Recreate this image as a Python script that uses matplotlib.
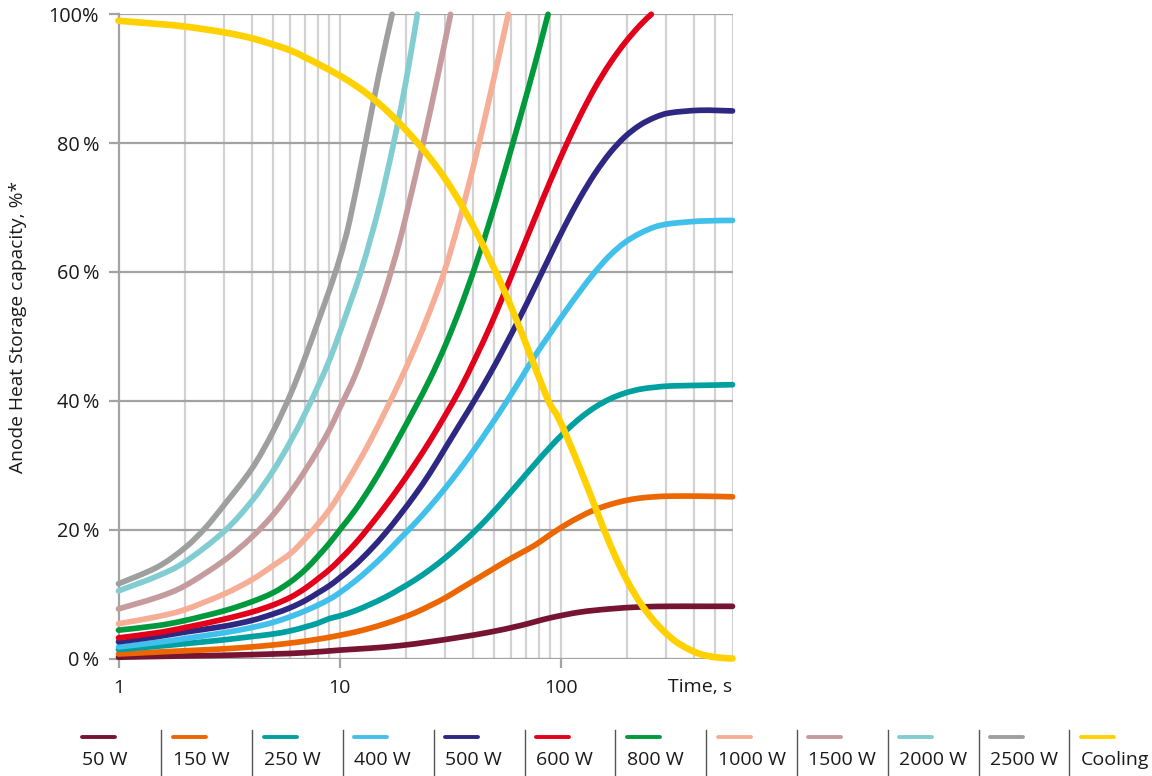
import numpy as np
import matplotlib
matplotlib.use("Agg")
import matplotlib.pyplot as plt
from matplotlib.lines import Line2D
from matplotlib.path import Path
from matplotlib.patches import PathPatch

plt.rcParams['font.family'] = ['Open Sans', 'DejaVu Sans']

# ---- data: time (s) and anode heat storage capacity (%) ----
t_50 = [1, 2, 3, 5, 7, 10, 13.74, 18.78, 25.67, 35.09, 47.97, 65.57, 89.6, 122.5, 167.5, 228.9, 313, 427.8, 600]
p_50 = [0.2, 0.4, 0.5, 0.7, 0.9, 1.3, 1.6, 2.0, 2.6, 3.3, 4.1, 5.1, 6.3, 7.2, 7.7, 8.0, 8.1, 8.1, 8.1]

t_150 = [1, 1.5, 2, 3, 4, 5, 6, 7, 8, 9, 10, 11.75, 13.74, 16.07, 18.78, 21.96, 25.67, 30.02, 35.09, 41.03,
         47.97, 56.09, 65.57, 76.67, 89.6, 104.8, 122.5, 143.2, 167.5, 195.8, 228.9, 267.7, 313, 427.8, 600]
p_150 = [0.7, 1.0, 1.2, 1.5, 1.8, 2.1, 2.4, 2.7, 3.0, 3.3, 3.6, 4.1, 4.7, 5.4, 6.2, 7.1, 8.2, 9.4, 10.8, 12.2,
         13.6, 15.0, 16.3, 17.6, 19.2, 20.7, 22.0, 23.1, 23.9, 24.5, 24.9, 25.1, 25.2, 25.2, 25.1]

t_250 = [1, 1.5, 2, 3, 4, 5, 6, 7, 8, 9, 10, 11.75, 13.74, 16.07, 18.78, 21.96, 25.67, 30.02, 35.09, 41.03,
         47.97, 56.09, 65.57, 76.67, 89.6, 104.8, 122.5, 143.2, 167.5, 195.8, 228.9, 267.7, 313, 427.8, 600]
p_250 = [1.4, 1.9, 2.3, 2.9, 3.4, 3.8, 4.3, 4.9, 5.5, 6.2, 6.6, 7.4, 8.4, 9.5, 10.8, 12.2, 13.8, 15.6, 17.6, 19.8,
         22.2, 24.8, 27.5, 30.2, 32.8, 35.2, 37.3, 39.0, 40.3, 41.2, 41.8, 42.1, 42.3, 42.4, 42.5]

t_400 = [1, 1.5, 2, 3, 4, 5, 6, 7, 8, 9, 10, 11.75, 13.74, 16.07, 18.78, 21.96, 25.67, 30.02, 35.09, 41.03,
         47.97, 56.09, 65.57, 76.67, 89.6, 104.8, 122.5, 143.2, 167.5, 195.8, 228.9, 267.7, 313, 427.8, 600]
p_400 = [1.8, 2.5, 3.1, 4.0, 4.8, 5.6, 6.5, 7.4, 8.3, 9.2, 10.2, 12.0, 14.0, 16.2, 18.6, 21.0, 23.6, 26.4, 29.4, 32.6,
         36.0, 39.5, 43.2, 47.0, 50.4, 53.8, 57.0, 60.0, 62.6, 64.6, 66.0, 67.0, 67.5, 67.9, 68.0]

t_500 = [1, 1.5, 2, 3, 4, 5, 6, 7, 8, 9, 10, 11.75, 13.74, 16.07, 18.78, 21.96, 25.67, 30.02, 35.09, 41.03,
         47.97, 56.09, 65.57, 76.67, 89.6, 104.8, 122.5, 143.2, 167.5, 195.8, 228.9, 267.7, 313, 427.8, 600]
p_500 = [2.6, 3.4, 4.1, 5.0, 5.9, 6.9, 7.9, 9.0, 10.2, 11.3, 12.5, 14.5, 16.8, 19.4, 22.3, 25.4, 28.8, 32.6, 36.4, 40.2,
         44.2, 48.5, 53.0, 57.7, 62.5, 67.2, 71.5, 75.3, 78.5, 81.0, 82.8, 84.0, 84.7, 85.1, 85.0]

t_600 = [1, 1.5, 2, 3, 4, 5, 6, 7, 8, 9, 10, 11.75, 13.74, 16.07, 18.78, 21.96, 25.67, 30.02, 35.09, 41.03,
         47.97, 56.09, 65.57, 76.67, 89.6, 104.8, 122.5, 143.2, 167.5, 195.8, 228.9, 257.5]
p_600 = [3.2, 4.0, 4.8, 6.1, 7.2, 8.3, 9.5, 10.9, 12.4, 13.8, 15.3, 17.8, 20.6, 23.6, 26.8, 30.2, 33.8, 37.7, 41.8, 46.5,
         51.5, 57.0, 62.7, 68.4, 74.0, 79.3, 84.2, 88.6, 92.4, 95.6, 98.3, 100]

t_800 = [1, 1.5, 2, 3, 4, 5, 6, 7, 8, 9, 10, 11.75, 13.74, 16.07, 18.78, 21.96, 25.67, 30.02, 35.09, 41.03,
         47.97, 56.09, 65.57, 76.67, 87.8]
p_800 = [4.4, 5.1, 5.9, 7.4, 8.8, 10.2, 11.9, 13.8, 15.9, 17.9, 19.9, 23.0, 26.5, 30.4, 34.6, 38.9, 43.4, 48.5, 54.3, 60.8,
         68.0, 75.8, 83.9, 92.3, 100]

t_1000 = [1, 1.5, 2, 3, 4, 5, 6, 7, 8, 9, 10, 11.75, 13.74, 16.07, 18.78, 21.96, 25.67, 30.02, 35.09, 41.03,
          47.97, 58.0]
p_1000 = [5.4, 6.5, 7.6, 10.0, 12.2, 14.4, 16.3, 18.6, 20.9, 23.1, 25.5, 29.5, 33.7, 38.3, 43.1, 48.3, 54.0, 60.4, 68.4, 77.4,
          87.4, 100]

t_1500 = [1, 1.5, 2, 3, 4, 5, 6, 7, 8, 9, 10, 11.75, 13.74, 16.07, 18.78, 21.96, 25.67, 30.02, 31.8]
p_1500 = [7.7, 9.5, 11.3, 15.2, 18.8, 22.3, 25.8, 29.2, 32.4, 35.5, 38.8, 43.9, 50.2, 57.0, 65.0, 74.6, 84.8, 95.8, 100]

t_2000 = [1, 1.5, 2, 3, 4, 5, 6, 7, 8, 9, 10, 12.5, 15, 17.5, 20, 22.5]
p_2000 = [10.5, 12.8, 15.0, 19.7, 24.4, 29.1, 33.7, 38.1, 42.3, 46.3, 50.5, 60.1, 69.7, 79.7, 89.7, 100]

t_2500 = [1, 1.5, 2, 2.46, 3, 4, 5, 6, 7, 8, 9, 10, 11.12, 13.1, 15.0, 17.3]
p_2500 = [11.6, 14.2, 17.2, 20.2, 23.8, 29.4, 35.2, 41.0, 46.8, 52.3, 57.2, 62.0, 68.0, 80.0, 90.3, 100]

t_cool = [1, 1.5, 2, 3, 4, 5, 6, 7, 8, 10, 11.75, 13.74, 16.07, 18.78, 21.96, 25.67, 30.02, 35.09, 41.03, 47.97,
          56.09, 65.57, 76.67, 88.7, 97.4, 108.1, 122.5, 138.8, 157.3, 178.3, 202.1, 228.9, 259.4, 293.9, 333.2,
          377.6, 427.8, 500, 600]
p_cool = [99.0, 98.5, 98.1, 97.2, 96.3, 95.3, 94.4, 93.3, 92.3, 90.5, 89.0, 87.3, 85.3, 83.0, 80.5, 77.7, 74.5, 70.8,
          66.6, 61.9, 56.8, 51.2, 45.2, 39.8, 37.5, 34.0, 29.5, 24.8, 20.0, 15.6, 11.8, 8.7, 6.2, 4.2, 2.6, 1.5, 0.7,
          0.2, 0.0]

series_labels = ["50 W", "150 W", "250 W", "400 W", "500 W", "600 W", "800 W",
                 "1000 W", "1500 W", "2000 W", "2500 W", "Cooling"]
series_colors = ["#771432", "#EC6602", "#009FA0", "#41C0EB", "#2E2883", "#E2001A", "#009A3D",
                 "#F7AE96", "#C59B9E", "#82CDD1", "#9E9F9F", "#FFD100"]
series_t = [t_50, t_150, t_250, t_400, t_500, t_600, t_800, t_1000, t_1500, t_2000, t_2500, t_cool]
series_p = [p_50, p_150, p_250, p_400, p_500, p_600, p_800, p_1000, p_1500, p_2000, p_2500, p_cool]

y_ticks = [0, 20, 40, 60, 80, 100]
y_tick_labels = ["0\u2009%", "20\u2009%", "40\u2009%", "60\u2009%", "80\u2009%", "100%"]
x_ticks = [1, 10, 100]
x_tick_labels = ["1", "10", "100"]
x_minor = [2, 3, 4, 5, 6, 7, 8, 9, 20, 30, 40, 50, 60, 70, 80, 90, 200, 300, 400, 500, 600]


def smooth_path(tt, pp):
    """Smoothed line through the points (Catmull-Rom as cubic Bezier segments,
    built in log-time space so it follows the logarithmic axis)."""
    lx = np.log10(np.asarray(tt, float))
    y = np.asarray(pp, float)
    n = len(lx)
    verts = [(tt[0], pp[0])]
    codes = [Path.MOVETO]
    for i in range(n - 1):
        x0, y0 = (lx[i - 1], y[i - 1]) if i > 0 else (lx[i], y[i])
        x1, y1 = lx[i], y[i]
        x2, y2 = lx[i + 1], y[i + 1]
        x3, y3 = (lx[i + 2], y[i + 2]) if i + 2 < n else (x2, y2)
        c1 = (x1 + (x2 - x0) / 6, y1 + (y2 - y0) / 6)
        c2 = (x2 - (x3 - x1) / 6, y2 - (y3 - y1) / 6)
        verts += [(10 ** c1[0], c1[1]), (10 ** c2[0], c2[1]), (10 ** x2, y2)]
        codes += [Path.CURVE4] * 3
    return Path(verts, codes)


# ---- figure ----
W, H = 1152, 776
fig = plt.figure(figsize=(W / 100, H / 100), dpi=100)
ax_l, ax_r, ax_t, ax_b = 118.5, 732.5, 14.3, 658.5
ax = fig.add_axes([ax_l / W, 1 - ax_b / H, (ax_r - ax_l) / W, (ax_b - ax_t) / H])

ax.set_xscale("log")
ax.set_xlim(1, 600)
ax.set_ylim(0, 100)

major_grey = "#A3A3A3"
minor_grey = "#D2D2D2"
text_col = "#1a1a1a"
for xv in x_minor + [10, 100]:
    ax.axvline(xv, color=minor_grey, lw=1.6, zorder=1)
for yv in y_ticks:
    ax.axhline(yv, color=major_grey, lw=1.6, zorder=1.5)

for s in ["top", "right", "bottom"]:
    ax.spines[s].set_visible(False)
ax.spines["left"].set_color(major_grey)
ax.spines["left"].set_linewidth(1.6)
ax.spines["left"].set_zorder(1.6)

ax.set_yticks(y_ticks)
ax.set_yticklabels(y_tick_labels)
ax.set_xticks(x_ticks)
ax.set_xticklabels(x_tick_labels)
ax.xaxis.set_minor_locator(matplotlib.ticker.NullLocator())
ax.tick_params(axis="y", length=7, width=1.6, color=major_grey, pad=7, labelsize=14.3, labelcolor=text_col)
ax.tick_params(axis="x", length=6.5, width=1.6, color=major_grey, pad=8, labelsize=14, labelcolor=text_col)

ax.text(1.0, -0.031, "Time, s", transform=ax.transAxes, ha="right", va="top", fontsize=14, color=text_col)
fig.text(18 / W, 1 - 327 / H, "Anode Heat Storage capacity, %*", rotation=90,
         ha="center", va="center", fontsize=13.8, color=text_col)

# ---- curves ----
for i, (tt, pp, col) in enumerate(zip(series_t, series_p, series_colors)):
    lw = 4.8 if i == len(series_t) - 1 else 4.1
    patch = PathPatch(smooth_path(tt, pp), facecolor="none", edgecolor=col, lw=lw,
                      capstyle="round", joinstyle="round", zorder=3 + i * 0.1, clip_on=False)
    ax.add_patch(patch)

# ---- legend strip ----
x0, step = 82, 90.8
for i, (lab, col) in enumerate(zip(series_labels, series_colors)):
    xs = x0 + i * step
    fig.add_artist(Line2D([xs / W, (xs + 33) / W], [1 - 737 / H, 1 - 737 / H],
                          color=col, lw=2.8, solid_capstyle="round"))
    fig.text(xs / W, 1 - 760 / H, lab, ha="left", va="center", fontsize=14, color=text_col)
    if i > 0:
        sx = xs - 11.5
        fig.add_artist(Line2D([sx / W, sx / W], [1 - 730 / H, 0], color="#555555", lw=1.0))

fig.savefig("out.png", dpi=100)
